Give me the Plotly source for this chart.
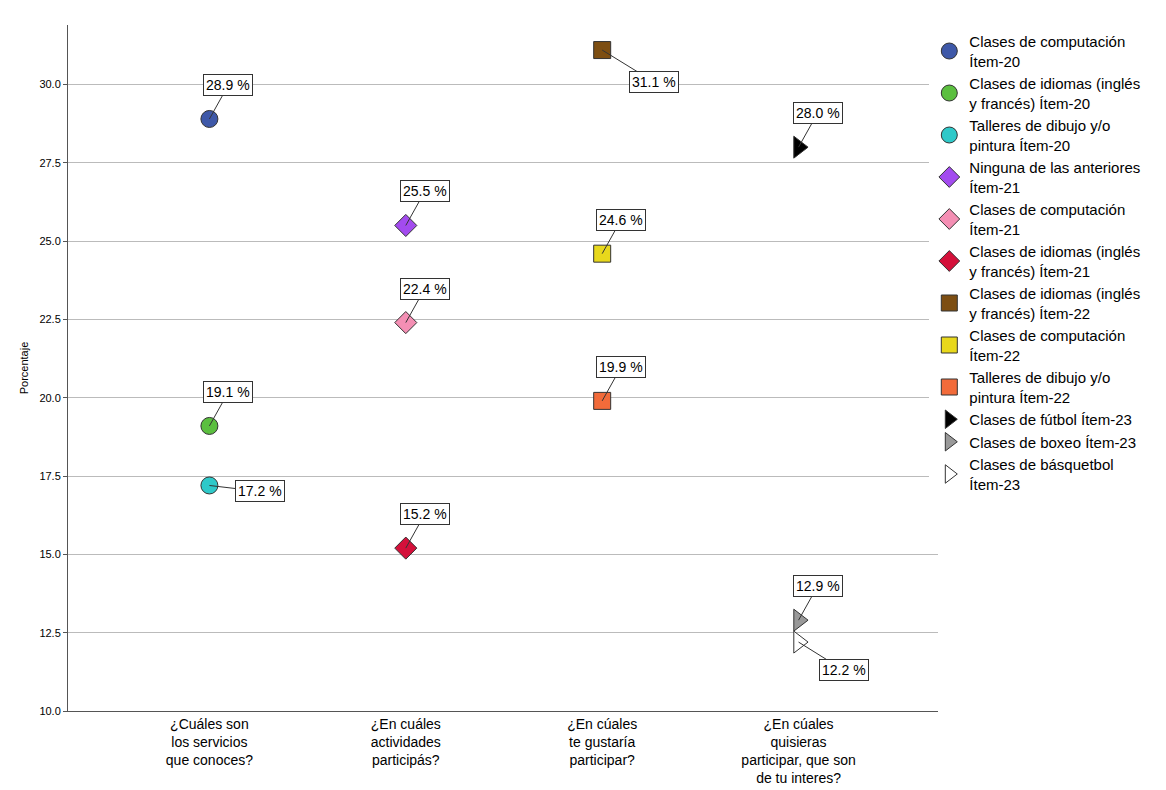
import plotly.graph_objects as go

categorias = ["¿Cuáles son<br>los servicios<br>que conoces?",
              "¿En cuáles<br>actividades<br>participás?",
              "¿En cúales<br>te gustaría<br>participar?",
              "¿En cúales<br>quisieras<br>participar, que son<br>de tu interes?"]

series = ["Clases de computación<br>Ítem-20", "Clases de idiomas (inglés<br>y francés) Ítem-20",
          "Talleres de dibujo y/o<br>pintura Ítem-20", "Ninguna de las anteriores<br>Ítem-21",
          "Clases de computación<br>Ítem-21", "Clases de idiomas (inglés<br>y francés) Ítem-21",
          "Clases de idiomas (inglés<br>y francés) Ítem-22", "Clases de computación<br>Ítem-22",
          "Talleres de dibujo y/o<br>pintura Ítem-22", "Clases de fútbol Ítem-23",
          "Clases de boxeo Ítem-23", "Clases de básquetbol<br>Ítem-23"]
grupo = [0, 0, 0, 1, 1, 1, 2, 2, 2, 3, 3, 3]
valores = [28.9, 19.1, 17.2, 25.5, 22.4, 15.2, 31.1, 24.6, 19.9, 28.0, 12.9, 12.2]
simbolos = ["circle"] * 3 + ["diamond"] * 3 + ["square"] * 3 + ["triangle-right"] * 3
colores = ["#3E58A8", "#5BBF3F", "#2EC9C9", "#A34BEF", "#F48FB4", "#D4103A",
           "#7D4E12", "#E8D81C", "#F26B3A", "#000000", "#999999", "#FFFFFF"]
# offsets of the data labels (px)
offsets = {2: (51, 6), 6: (52, 32), 11: (45, 28)}

fig = go.Figure()
for i, nombre in enumerate(series):
    fig.add_trace(go.Scatter(
        x=[grupo[i]], y=[valores[i]], mode="markers", name=nombre,
        marker=dict(symbol=simbolos[i], color=colores[i], size=17 if i < 9 else 19,
                    line=dict(color="#333333", width=1))))
    ax, ay = offsets.get(i, (19, -34))
    fig.add_annotation(x=grupo[i], y=valores[i], text=f"{valores[i]:.1f} %",
                       ax=ax, ay=ay, showarrow=True, arrowhead=0, arrowwidth=1,
                       arrowcolor="#333333", bgcolor="white", bordercolor="#333333",
                       borderwidth=1, borderpad=2, font=dict(size=14, color="black"))

fig.update_layout(
    width=1166, height=790, plot_bgcolor="white", paper_bgcolor="white",
    margin=dict(l=60, r=236, t=17, b=79),
    font=dict(family="Liberation Sans, Arial", color="black"),
    showlegend=True,
    legend=dict(x=0.99, y=1.0, yanchor="top", xanchor="left", font=dict(size=15),
                tracegroupgap=0, itemsizing="trace", itemwidth=30),
    xaxis=dict(range=[-0.72, 3.71], tickvals=[0, 1, 2, 3], ticktext=categorias,
               showgrid=False, showline=True, linecolor="#555555", ticks="",
               tickfont=dict(size=14), zeroline=False),
    yaxis=dict(range=[10, 31.9], dtick=2.5, tickformat=".1f", showgrid=True,
               gridcolor="#BBBBBB", showline=True, linecolor="#555555",
               ticks="outside", ticklen=4, tickcolor="#555555", zeroline=False,
               tickfont=dict(size=11),
               title=dict(text="Porcentaje", font=dict(size=11), standoff=8)),
)
fig.write_html("out.html")
